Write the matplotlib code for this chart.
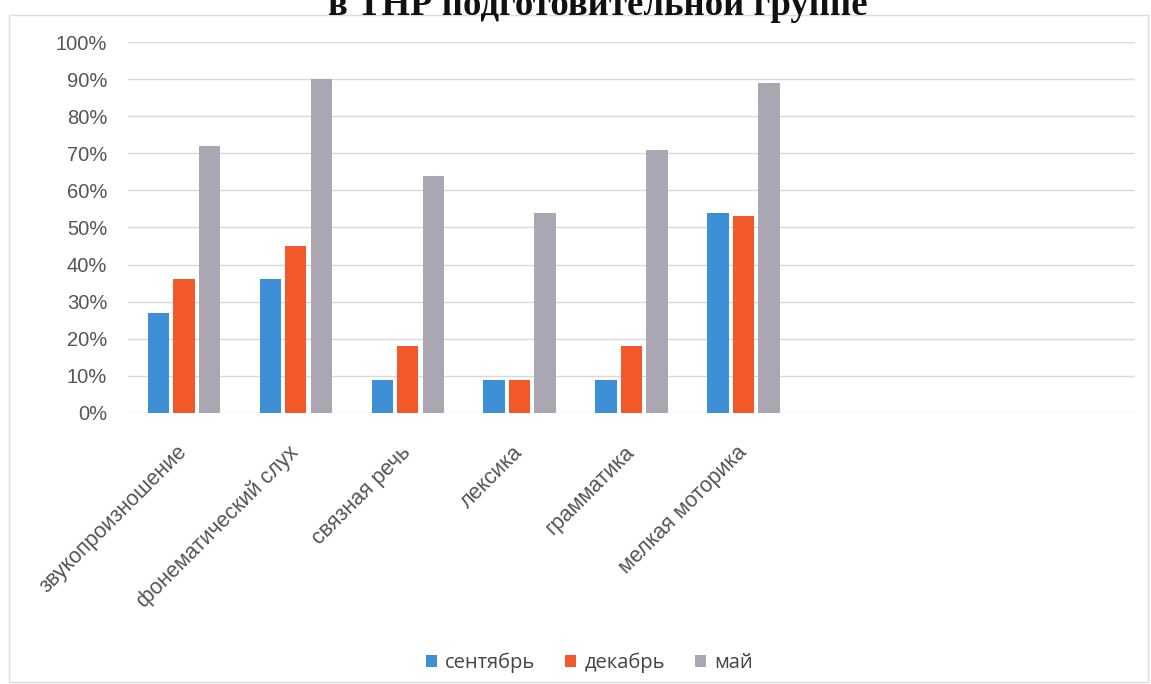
import numpy as np
import matplotlib.pyplot as plt
from matplotlib.patches import Rectangle
from matplotlib.ticker import PercentFormatter

# данные диаграммы (проценты)
categories = ['звукопроизношение', 'фонематический слух', 'связная речь',
              'лексика', 'грамматика', 'мелкая моторика']
sentyabr = [27, 36, 9, 9, 9, 54]
dekabr = [36, 45, 18, 9, 18, 53]
may = [72, 90, 64, 54, 71, 89]
series_names = ['сентябрь', 'декабрь', 'май']
n_slots = 9  # в исходной диаграмме справа три пустые категории

colors = ['#3f8fd6', '#f2592a', '#aaa6b2']

fig = plt.figure(figsize=(11.51, 6.84), dpi=100)

# рамка области диаграммы
fig.patches.append(Rectangle((9 / 1151, 2 / 684), 1139 / 1151, 667 / 684,
                             transform=fig.transFigure, fill=False,
                             edgecolor='#dcdcdc', lw=1))

# обрезанный заголовок сверху
fig.text(0.519, 1 - 15 / 684, 'в ТНР подготовительной группе',
         ha='center', va='baseline', fontsize=26.5, fontweight='bold',
         family='Liberation Serif', color='#111111')

ax = fig.add_axes([128 / 1151, 1 - 413 / 684, 1007 / 1151, 371 / 684])

x = np.arange(len(categories))
width = 0.19
offset = 0.228
for i, (vals, name) in enumerate(zip([sentyabr, dekabr, may], series_names)):
    ax.bar(x + (i - 1) * offset, vals, width, color=colors[i], label=name, zorder=3)

ax.set_xlim(-0.5, n_slots - 0.5)
ax.set_ylim(0, 100)
ax.set_yticks(np.arange(0, 101, 10))
ax.yaxis.set_major_formatter(PercentFormatter(decimals=0))
ax.grid(axis='y', color='#d9d9d9', lw=1, zorder=0)
for s in ax.spines.values():
    s.set_visible(False)
ax.tick_params(length=0)
ax.tick_params(axis='y', labelsize=14.5, labelcolor='#555555', pad=15)

ax.set_xticks(x)
ax.set_xticklabels(categories, rotation=45, ha='right', va='center',
                   rotation_mode='anchor', fontsize=15.5, color='#555555')
ax.tick_params(axis='x', pad=26)
for lbl in ax.get_yticklabels() + ax.get_xticklabels():
    lbl.set_family('Liberation Sans')

leg = fig.legend(loc='center', bbox_to_anchor=(0.512, 1 - 663 / 684), ncol=3,
                 frameon=False, handlelength=0.55, handleheight=0.55,
                 handletextpad=0.4, columnspacing=1.5,
                 prop={'family': 'Open Sans', 'size': 14.5})
for t in leg.get_texts():
    t.set_color('#444444')

fig.savefig('out.png', dpi=100)
